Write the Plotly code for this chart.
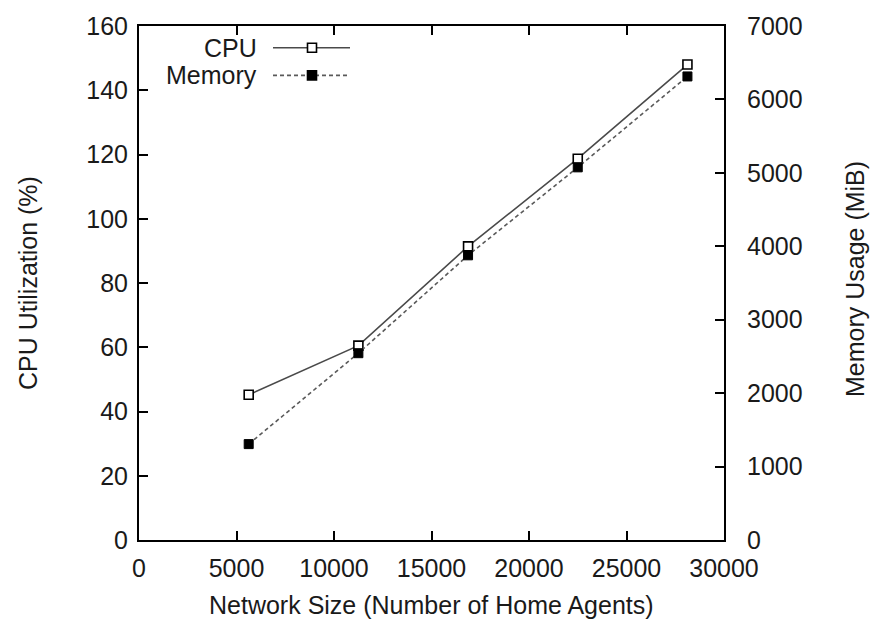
import plotly.graph_objects as go

network_size = [5625, 11250, 16875, 22500, 28125]
cpu_util = [45.2, 60.5, 91.4, 118.7, 148.0]
mem_usage = [1306, 2544, 3877, 5075, 6313]

x_ticks = [0, 5000, 10000, 15000, 20000, 25000, 30000]
y_ticks = [0, 20, 40, 60, 80, 100, 120, 140, 160]
y2_ticks = [0, 1000, 2000, 3000, 4000, 5000, 6000, 7000]

FONT = "Liberation Sans, Arial, sans-serif"
TXT = "#1a1a1a"
FS = 25

fig = go.Figure()
fig.add_trace(go.Scatter(
    x=network_size, y=cpu_util, mode="lines+markers", name="CPU",
    line=dict(color="#4a4a4a", width=1.6),
    marker=dict(symbol="square", size=9, color="white", line=dict(color="black", width=1.6)),
    yaxis="y", showlegend=False))
fig.add_trace(go.Scatter(
    x=network_size, y=mem_usage, mode="lines+markers", name="Memory",
    line=dict(color="#5a5a5a", width=1.6, dash="4px,3px"),
    marker=dict(symbol="square", size=9, color="black", line=dict(color="black", width=1)),
    yaxis="y2", showlegend=False))

axis_common = dict(
    showline=True, linecolor="black", linewidth=2,
    ticks="inside", ticklen=9, tickwidth=1.5, tickcolor="black",
    showgrid=False, zeroline=False,
    tickfont=dict(family=FONT, size=FS, color=TXT),
)

fig.update_layout(
    width=871, height=624,
    margin=dict(l=139, r=147, t=20, b=84),
    plot_bgcolor="white", paper_bgcolor="white",
    xaxis=dict(range=[0, 30000], tickvals=x_ticks, ticktext=[str(v) for v in x_ticks],
               mirror="ticks", ticklabelstandoff=5, **axis_common),
    yaxis=dict(range=[0, 160], tickvals=y_ticks, ticklabelstandoff=4, **axis_common),
    yaxis2=dict(range=[0, 7000], tickvals=y2_ticks, overlaying="y", side="right",
                ticklabelstandoff=16, **axis_common),
)

# axis titles
fig.add_annotation(text="Network Size (Number of Home Agents)", xref="paper", yref="paper",
                   x=0.5, y=-0.127, xanchor="center", yanchor="middle", showarrow=False,
                   font=dict(family=FONT, size=FS, color=TXT))
fig.add_annotation(text="CPU Utilization (%)", xref="paper", yref="paper",
                   x=(28 - 139) / 585, y=(540 - 280) / 520, textangle=-90,
                   xanchor="center", yanchor="middle", showarrow=False,
                   font=dict(family=FONT, size=FS, color=TXT))
fig.add_annotation(text="Memory Usage (MiB)", xref="paper", yref="paper",
                   x=(855 - 139) / 585, y=(540 - 276) / 520, textangle=-90,
                   xanchor="center", yanchor="middle", showarrow=False,
                   font=dict(family=FONT, size=FS, color=TXT))

# gnuplot-style key: text then sample
def px(x):
    return (x - 139) / 585

def py(y):
    return (540 - y) / 520

for label, yy, dash, fill, col in [("CPU", 42, "solid", "white", "#4a4a4a"),
                                   ("Memory", 70, "4px,3px", "black", "#5a5a5a")]:
    fig.add_annotation(text=label, xref="paper", yref="paper", x=px(259), y=py(yy),
                       xanchor="right", yanchor="middle", showarrow=False,
                       font=dict(family=FONT, size=FS, color=TXT))
    fig.add_shape(type="line", xref="paper", yref="paper", x0=px(273), x1=px(350),
                  y0=py(yy), y1=py(yy), line=dict(color=col, width=1.6, dash=dash))
    fig.add_shape(type="rect", xref="paper", yref="paper", xsizemode="pixel", ysizemode="pixel",
                  xanchor=px(312), yanchor=py(yy), x0=-4.5, x1=4.5, y0=-4.5, y1=4.5,
                  fillcolor=fill, line=dict(color="black", width=1.6))

fig.write_html("out.html")
